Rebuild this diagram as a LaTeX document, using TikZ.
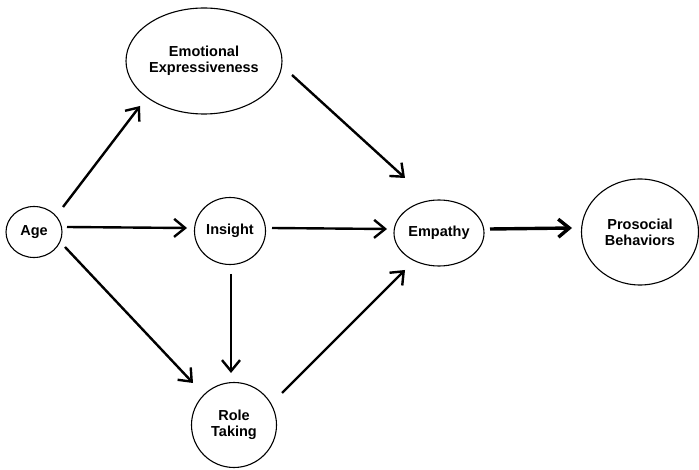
\documentclass[tikz,border=0pt]{standalone}
\usepackage{fontspec}
\setmainfont{Liberation Sans}
\usetikzlibrary{shapes.geometric,arrows.meta,calc}
\begin{document}
\begin{tikzpicture}[x=1pt,y=-1pt,
  var/.style={ellipse,draw,line width=1.1pt,inner sep=0pt,align=center,
    font=\fontsize{14.5}{16}\selectfont\bfseries},
  arr/.style={line width=2.4pt,-{Straight Barb[length=11pt,width=18pt]}},
  thickarr/.style={line width=3.4pt,-{Straight Barb[length=11pt,width=18pt]}}]
\useasboundingbox (0,0) rectangle (699,470);
\node[var,minimum width=156pt,minimum height=106pt] (emo) at (204,61) {Emotional\\Expressiveness};
\node[var,minimum width=56pt,minimum height=51pt] (age) at (34,232) {Age};
\node[var,minimum width=71pt,minimum height=67pt] (ins) at (230,231) {Insight};
\node[var,minimum width=90pt,minimum height=66pt] (emp) at (439,233) {Empathy};
\node[var,minimum width=117pt,minimum height=106pt] (pro) at (640,232) {Prosocial\\Behaviors};
\node[var,minimum width=85pt,minimum height=85pt] (role) at (234,425) {Role\\Taking};
\draw[arr] ($(age)+(29,-25)$) -- ($(emo)+(-64,45)$);
\draw[arr] ($(age)+(33,-5)$) -- ($(ins)+(-43,-3)$);
\draw[arr] ($(age)+(31,15)$) -- ($(role)+(-41,-42)$);
\draw[arr] ($(ins)+(1,43)$) -- ($(role)+(-3,-52)$);
\draw[arr] ($(ins)+(42,-3)$) -- ($(emp)+(-52,-4)$);
\draw[arr] ($(emo)+(88,14)$) -- ($(emp)+(-34,-55)$);
\draw[arr] ($(role)+(48,-32)$) -- ($(emp)+(-34,37)$);
\draw[thickarr] ($(emp)+(51,-4)$) -- ($(pro)+(-68,-4)$);
\end{tikzpicture}
\end{document}
